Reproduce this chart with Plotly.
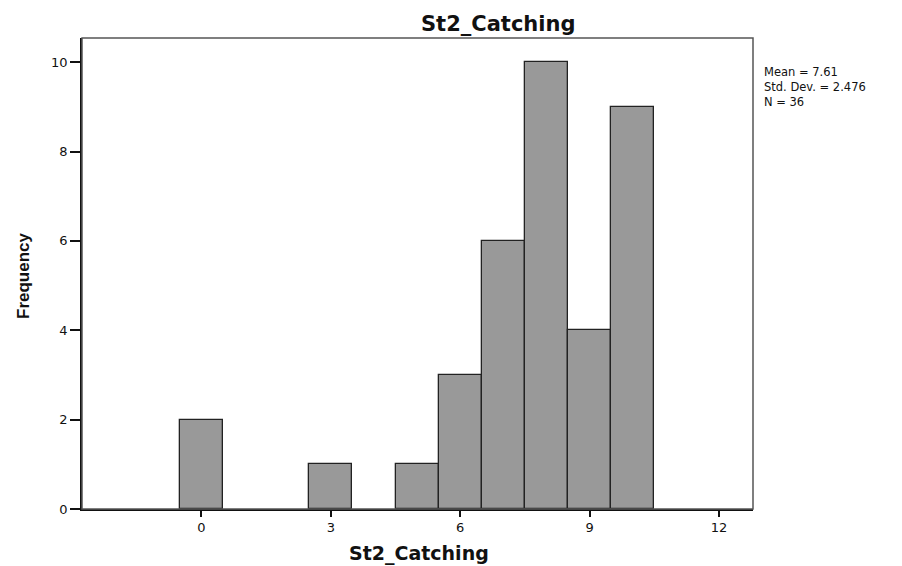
import plotly.graph_objects as go

# Data
scores = [0, 3, 5, 6, 7, 8, 9, 10]
frequency = [2, 1, 1, 3, 6, 10, 4, 9]
x_ticks = [0, 3, 6, 9, 12]
y_ticks = [0, 2, 4, 6, 8, 10]
title_text = "St2_Catching"
x_title = "St2_Catching"
y_title = "Frequency"
stats_lines = ["Mean = 7.61", "Std. Dev. = 2.476", "N = 36"]

W, H = 902, 566
# plot-area edges in window pixels
L, R, T, B = 82, 753, 38, 509

def px(xp):
    return (xp - L) / (R - L)

def py(yp):
    return (B - yp) / (B - T)

fig = go.Figure()
fig.add_trace(go.Bar(
    x=scores, y=frequency, width=1,
    marker=dict(color="#999999", line=dict(color="#222222", width=1.3)),
    hoverinfo="x+y", showlegend=False,
))

tick_font = dict(family="DejaVu Sans", size=13, color="#111111")
fig.update_layout(
    width=W, height=H,
    margin=dict(l=L, r=W - R, t=T, b=H - B, autoexpand=False),
    paper_bgcolor="white", plot_bgcolor="white",
    bargap=0,
    xaxis=dict(range=[-2.77, 12.79], tickvals=x_ticks, ticks="outside", ticklen=6,
               tickwidth=1.5, tickcolor="#111111", showgrid=False, zeroline=False,
               showline=True, linecolor="#111111", linewidth=1.5, tickfont=tick_font,
               automargin=False),
    yaxis=dict(range=[0, 10.54], tickvals=y_ticks, ticks="outside", ticklen=10,
               tickwidth=1.5, tickcolor="#111111", showgrid=False, zeroline=False,
               showline=True, linecolor="#111111", linewidth=1.5, tickfont=tick_font,
               automargin=False),
    shapes=[dict(type="rect", xref="paper", yref="paper", x0=0, x1=1, y0=0, y1=1,
                 line=dict(color="#555555", width=1.5), layer="above")],
)

ann = []
ann.append(dict(text="<b>%s</b>" % title_text, x=px(498), y=py(24.5), xref="paper", yref="paper",
                xanchor="center", yanchor="middle", showarrow=False,
                font=dict(family="DejaVu Sans", size=21, color="#111111")))
ann.append(dict(text="<b>%s</b>" % x_title, x=px(419), y=py(553), xref="paper", yref="paper",
                xanchor="center", yanchor="middle", showarrow=False,
                font=dict(family="DejaVu Sans", size=19, color="#111111")))
ann.append(dict(text="<b>%s</b>" % y_title, x=px(23), y=py(276), xref="paper", yref="paper",
                xanchor="center", yanchor="middle", showarrow=False, textangle=-90,
                font=dict(family="Liberation Sans", size=17, color="#111111")))
ann.append(dict(text="<br>".join(stats_lines), x=px(762), y=py(63), xref="paper", yref="paper",
                xanchor="left", yanchor="top", align="left", showarrow=False,
                font=dict(family="DejaVu Sans", size=11.5, color="#111111")))
fig.update_layout(annotations=ann)

fig.write_html("out.html", config={"displayModeBar": False},
               post_script="document.body.style.margin='0';document.body.style.overflow='hidden';")
